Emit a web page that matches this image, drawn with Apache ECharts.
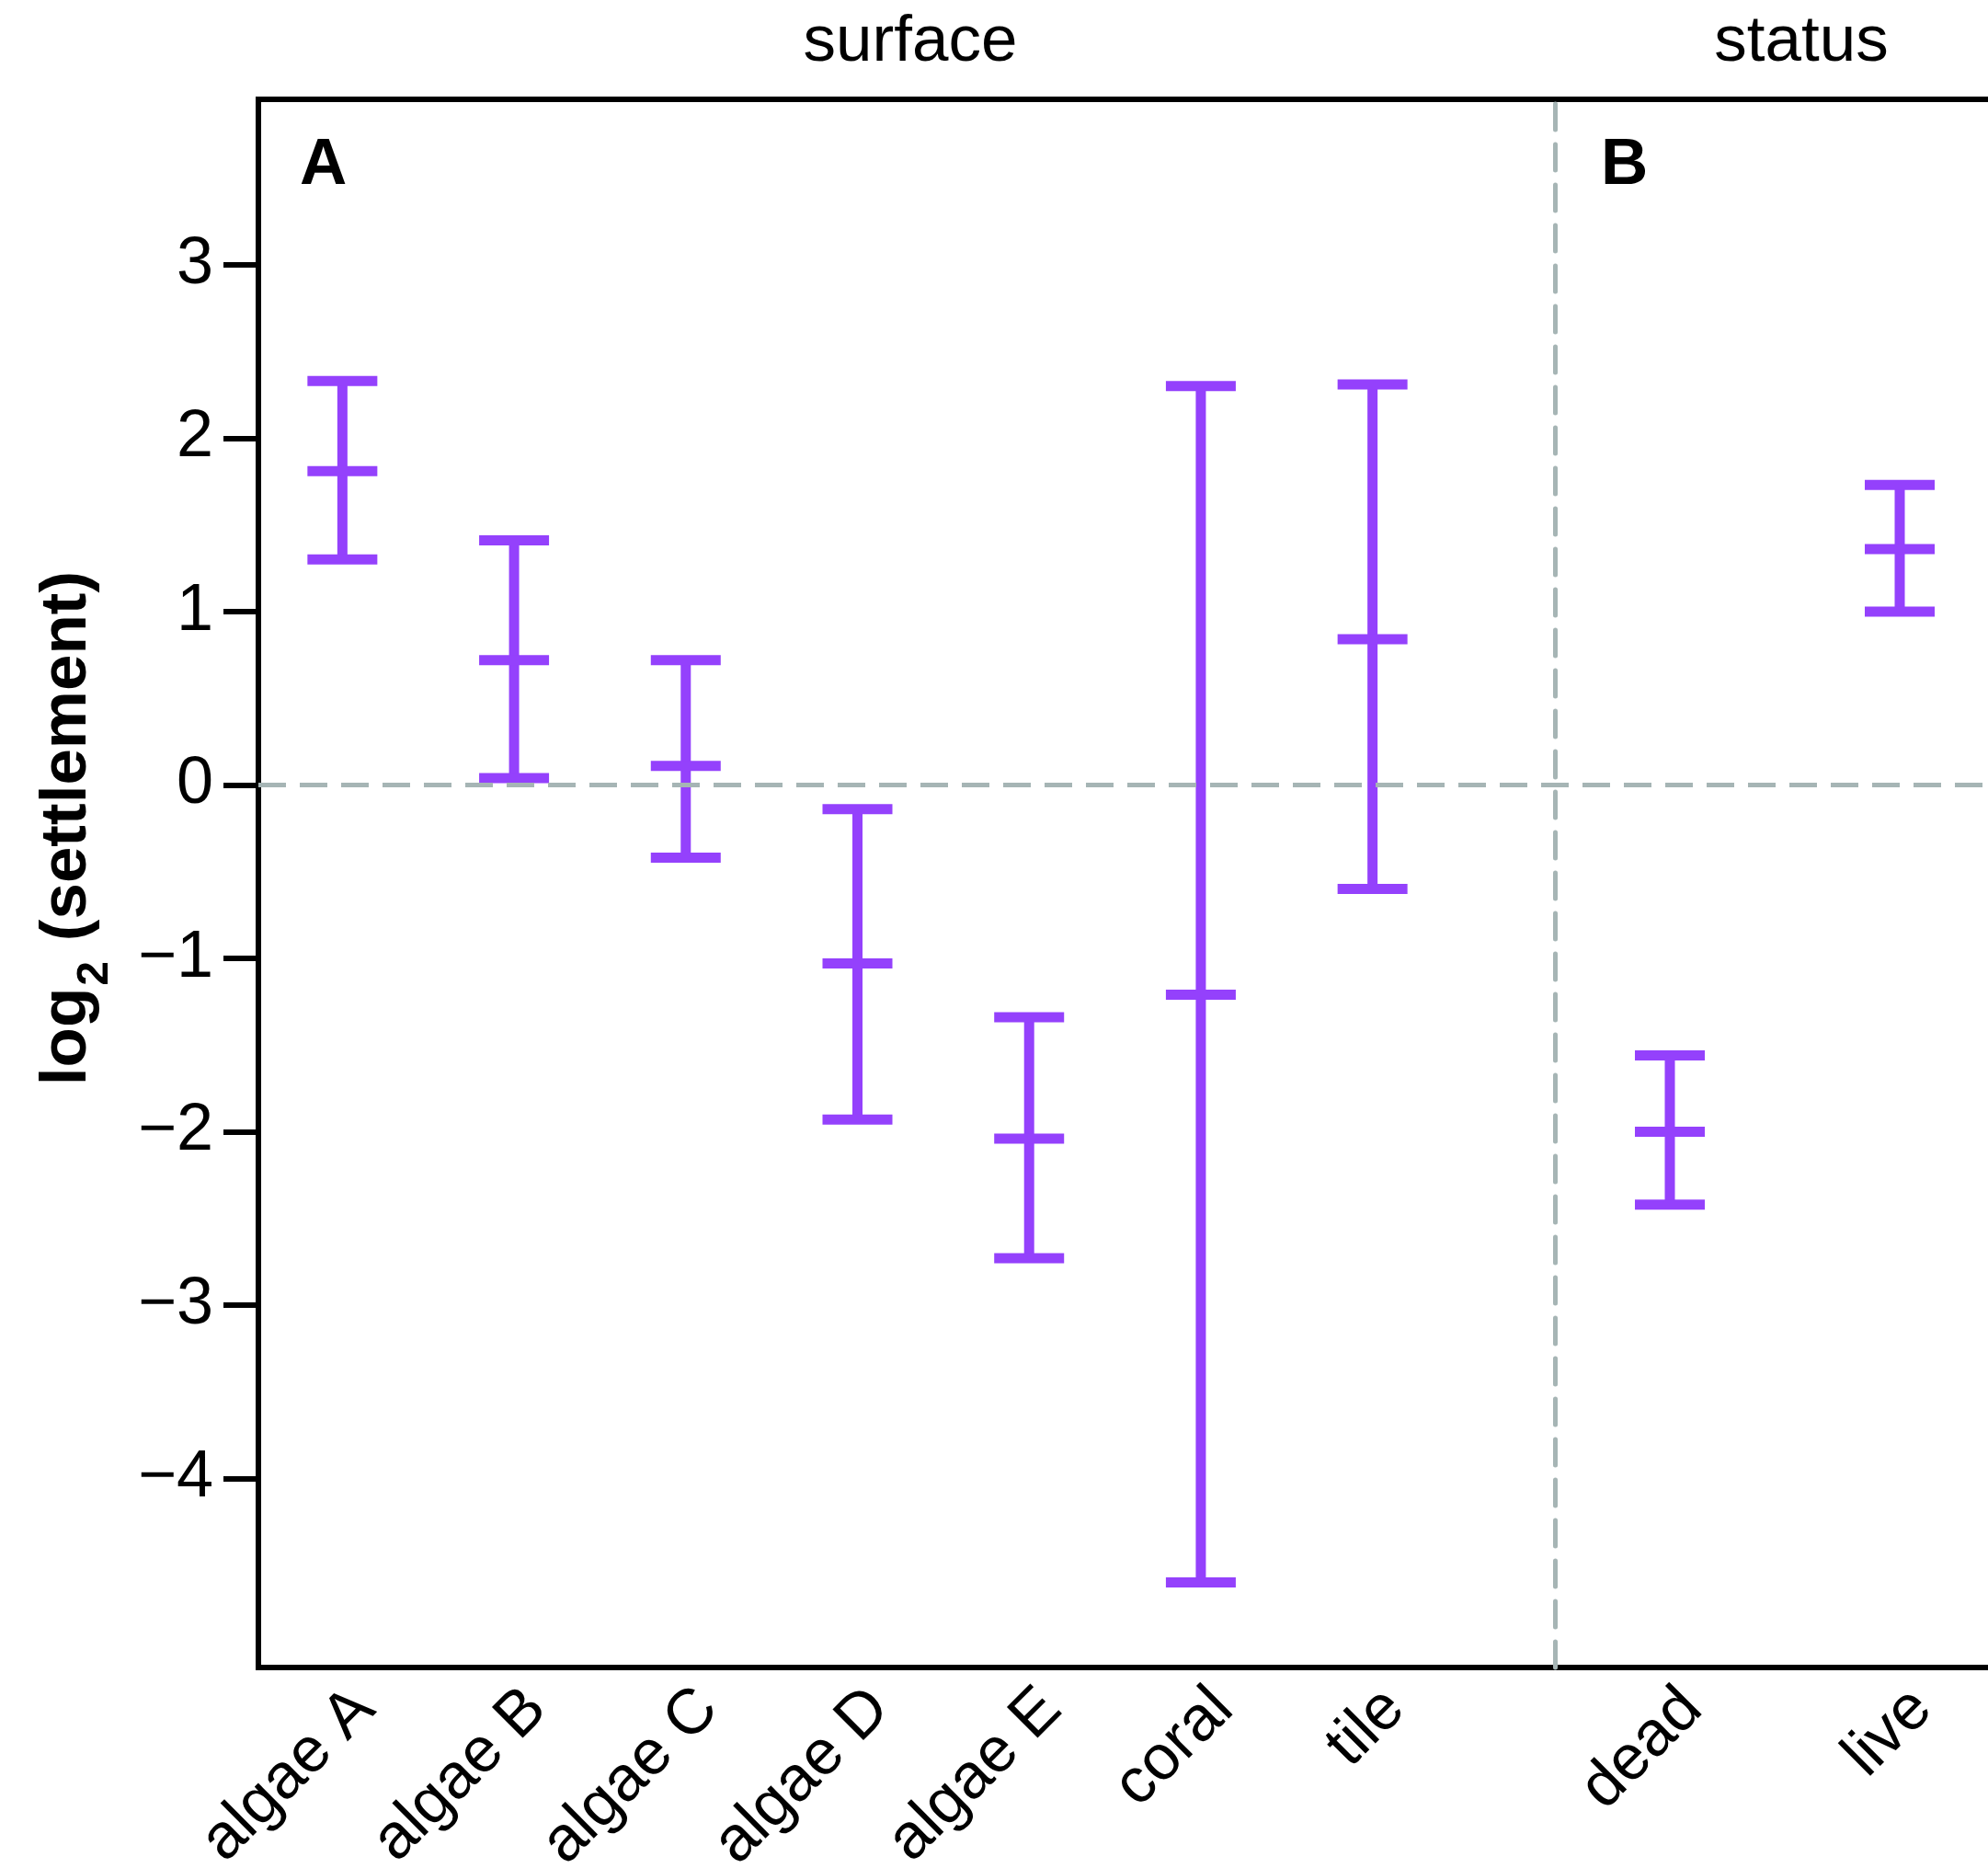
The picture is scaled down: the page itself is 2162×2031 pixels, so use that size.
<!DOCTYPE html>
<html>
<head>
<meta charset="utf-8">
<script src="https://cdn.jsdelivr.net/npm/echarts@6/dist/echarts.min.js"></script>
<style>
  html, body { margin: 0; padding: 0; background: #fff; }
  #chart { width: 2162px; height: 2031px; }
</style>
</head>
<body>
<div id="chart"></div>
<script>
// Larval settlement, log2 scale: mean with the lower and upper interval limits.
// Panel A: settlement surface.
const surfaceCats = ['algae A', 'algae B', 'algae C', 'algae D', 'algae E', 'coral', 'tile'];
const surfaceMean = [1.81, 0.72, 0.11, -1.03, -2.04, -1.21, 0.84];
const surfaceLow  = [1.30, 0.04, -0.42, -1.93, -2.73, -4.60, -0.60];
const surfaceHigh = [2.33, 1.41, 0.72, -0.14, -1.34, 2.30, 2.31];

// Panel B: coral status.
const statusCats = ['dead', 'live'];
const statusMean = [-2.00, 1.36];
const statusLow  = [-2.42, 1.00];
const statusHigh = [-1.56, 1.73];

// Value axis: tick values and visible range.
const yTicks = [-4, -3, -2, -1, 0, 1, 2, 3];
const yMin = -5.09;
const yMax = 3.954;

const FONT = '"Liberation Sans", Arial, Helvetica, sans-serif';
const INK = '#000000';
const PURPLE = '#9441fc';
const GUIDE = '#a6b5b5';
const BAR_WIDTH = 11;
const CAP_HALF = 38;

function toRows(means, lows, highs) {
  return means.map((m, i) => [i, m, lows[i], highs[i]]);
}

// Draws one interval: vertical stem, caps at both limits and a bar at the mean.
function errorBar(params, api) {
  const x = api.value(0);
  const top = api.coord([x, api.value(3)]);
  const bot = api.coord([x, api.value(2)]);
  const mid = api.coord([x, api.value(1)]);
  const seg = (x1, y1, x2, y2) => ({
    type: 'line',
    shape: { x1, y1, x2, y2 },
    style: { stroke: PURPLE, lineWidth: BAR_WIDTH, lineCap: 'butt', fill: null }
  });
  return {
    type: 'group',
    children: [
      seg(top[0], top[1], bot[0], bot[1]),
      seg(top[0] - CAP_HALF, top[1], top[0] + CAP_HALF, top[1]),
      seg(bot[0] - CAP_HALF, bot[1], bot[0] + CAP_HALF, bot[1]),
      seg(mid[0] - CAP_HALF, mid[1], mid[0] + CAP_HALF, mid[1])
    ]
  };
}

function panelXAxis(gridIndex, cats) {
  return {
    type: 'category',
    gridIndex,
    data: cats,
    axisLine: { show: false },
    axisTick: { show: false },
    splitLine: { show: false },
    axisLabel: {
      interval: 0,
      rotate: 45,
      align: 'right',
      verticalAlign: 'top',
      margin: 10,
      fontSize: 69,
      fontFamily: FONT,
      color: INK
    }
  };
}

const labelText = (size, weight) => ({
  fontSize: size, fontWeight: weight, color: INK, fontFamily: FONT
});

const chart = echarts.init(document.getElementById('chart'), null, { renderer: 'canvas' });

chart.setOption({
  animation: false,
  backgroundColor: '#ffffff',
  title: [
    { text: 'surface', left: 990, top: 46, textAlign: 'center', textVerticalAlign: 'middle', padding: 0, textStyle: labelText(71, 'normal') },
    { text: 'status', left: 1959, top: 46, textAlign: 'center', textVerticalAlign: 'middle', padding: 0, textStyle: labelText(71, 'normal') },
    { text: 'A', left: 326, top: 180, textAlign: 'left', textVerticalAlign: 'middle', padding: 0, textStyle: labelText(71, 'bold') },
    { text: 'B', left: 1741, top: 180, textAlign: 'left', textVerticalAlign: 'middle', padding: 0, textStyle: labelText(71, 'bold') }
  ],
  grid: [
    // outer frame, carries the value axis
    { left: 281, top: 108, width: 1950, height: 1705, show: true, borderColor: INK, borderWidth: 6, backgroundColor: 'transparent', outerBoundsMode: 'none', containLabel: false },
    // panel A
    { left: 279, top: 108, width: 1307, height: 1705, outerBoundsMode: 'none', containLabel: false },
    // panel B
    { left: 1691, top: 108, width: 500, height: 1705, outerBoundsMode: 'none', containLabel: false }
  ],
  xAxis: [
    { type: 'value', gridIndex: 0, min: 0, max: 1, show: false },
    panelXAxis(1, surfaceCats),
    panelXAxis(2, statusCats)
  ],
  yAxis: [
    {
      type: 'value',
      gridIndex: 0,
      min: yMin,
      max: yMax,
      axisLine: { show: true, onZero: false, lineStyle: { color: INK, width: 6 } },
      axisTick: { show: true, length: 38, customValues: yTicks, lineStyle: { color: INK, width: 6 } },
      axisLabel: {
        customValues: yTicks,
        margin: 49,
        fontSize: 72,
        fontFamily: FONT,
        color: INK,
        formatter: v => String(v).replace('-', '\u2212')
      },
      splitLine: { show: false },
      name: '{a|log}{b|2}{a| (settlement)}',
      nameLocation: 'middle',
      nameRotate: 90,
      nameGap: 172,
      nameTextStyle: {
        padding: [0, 0, 0, 120],
        rich: {
          a: { fontSize: 71, fontWeight: 'bold', fontFamily: FONT, color: INK, lineHeight: 71, verticalAlign: 'top' },
          b: { fontSize: 48, fontWeight: 'bold', fontFamily: FONT, color: INK, lineHeight: 48, verticalAlign: 'top', padding: [42, 2, 0, 2] }
        }
      }
    },
    { type: 'value', gridIndex: 1, min: yMin, max: yMax, show: false },
    {
      type: 'value',
      gridIndex: 2,
      min: yMin,
      max: yMax,
      axisLine: { show: true, onZero: false, lineStyle: { color: GUIDE, width: 5, type: [28, 16] } },
      axisTick: { show: false },
      axisLabel: { show: false },
      splitLine: { show: false }
    }
  ],
  series: [
    {
      // reference line at zero across both panels
      type: 'line',
      xAxisIndex: 0,
      yAxisIndex: 0,
      data: [],
      silent: true,
      z: 1,
      markLine: {
        silent: true,
        symbol: ['none', 'none'],
        label: { show: false },
        lineStyle: { color: GUIDE, width: 5, type: [30, 15] },
        data: [{ yAxis: 0 }]
      }
    },
    {
      name: 'surface',
      type: 'custom',
      xAxisIndex: 1,
      yAxisIndex: 1,
      z: 3,
      renderItem: errorBar,
      encode: { x: 0, y: [1, 2, 3] },
      data: toRows(surfaceMean, surfaceLow, surfaceHigh)
    },
    {
      name: 'status',
      type: 'custom',
      xAxisIndex: 2,
      yAxisIndex: 2,
      z: 3,
      renderItem: errorBar,
      encode: { x: 0, y: [1, 2, 3] },
      data: toRows(statusMean, statusLow, statusHigh)
    }
  ]
});
</script>
</body>
</html>
